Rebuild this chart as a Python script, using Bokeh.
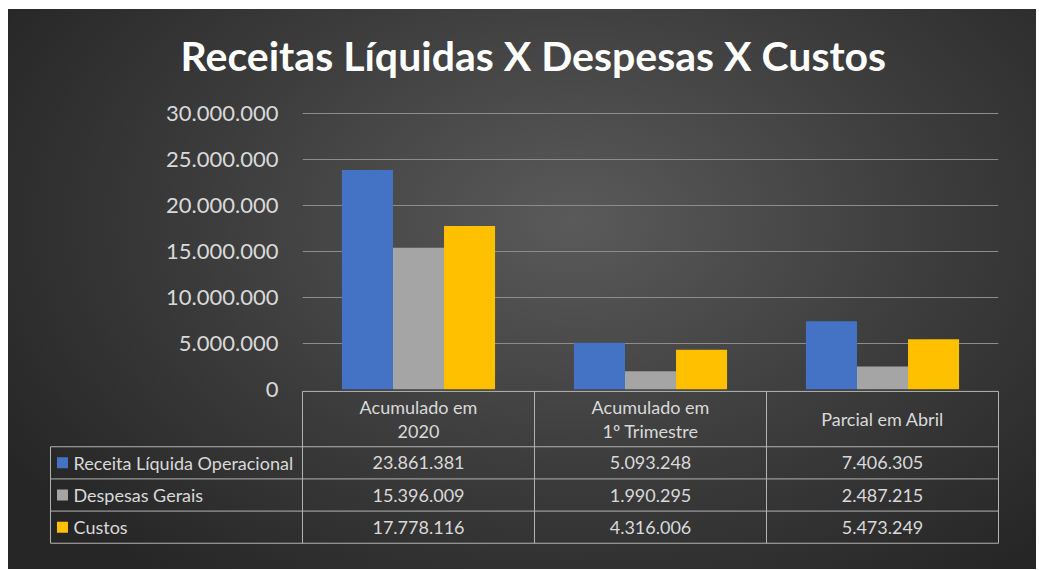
from bokeh.plotting import figure
from bokeh.models import Range1d, FactorRange, Title, FixedTicker, CustomJSTickFormatter, ColumnDataSource
from bokeh.layouts import column
from bokeh.transform import dodge
from bokeh.core.properties import value
from bokeh.embed import file_html
from bokeh.resources import INLINE

# ---------------- data ----------------
chart_title = "Receitas Líquidas X Despesas X Custos"
categories = ["Acumulado em 2020", "Acumulado em 1º Trimestre", "Parcial em Abril"]
header_labels = ["Acumulado em\n2020", "Acumulado em\n1º Trimestre", "Parcial em Abril"]
series_names = ["Receita Líquida Operacional", "Despesas Gerais", "Custos"]
receita = [23861381, 5093248, 7406305]
despesas = [15396009, 1990295, 2487215]
custos = [17778116, 4316006, 5473249]
y_ticks = [0, 5000000, 10000000, 15000000, 20000000, 25000000, 30000000]

colors = ["#4472C4", "#A5A5A5", "#FFC000"]
TXT = "#d9d9d9"
FONT = "Lato"

series = [receita, despesas, custos]

# ---------------- chart ----------------
src = ColumnDataSource(dict(cat=categories, receita=receita, despesas=despesas, custos=custos))

OVER = 14    # px of the chart canvas that sit under the table canvas
TOP = 120    # border above the plot frame (holds the title)
SHIFT = 18   # chart canvas pulled up by this many px

p = figure(x_range=FactorRange(*categories), y_range=Range1d(0, 30000000 * 278 / 276),
           width=1028, height=TOP + 278 + OVER, output_backend="svg", toolbar_location=None,
           x_axis_location=None,
           min_border_left=294, min_border_right=38, min_border_top=TOP, min_border_bottom=OVER)
p.frame_align = False
p.styles = {"margin-top": f"-{SHIFT}px"}
p.background_fill_color = None
p.border_fill_color = None
p.outline_line_color = None

p.title = Title(text=chart_title, align="left", offset=-122, standoff=63,
                text_font=FONT, text_font_style="bold", text_font_size="41px",
                text_color="#ffffff")

ax = p.yaxis[0]
ax.ticker = FixedTicker(ticks=y_ticks)
ax.formatter = CustomJSTickFormatter(code="return Math.round(tick).toString().replace(/\\B(?=(\\d{3})+(?!\\d))/g, '.');")
ax.axis_line_color = None
ax.major_tick_line_color = None
ax.minor_tick_line_color = None
ax.major_tick_out = 0
ax.major_tick_in = 0
ax.major_label_standoff = 24
ax.major_label_text_font = FONT
ax.major_label_text_font_size = "22px"
ax.major_label_text_color = TXT

p.xgrid.grid_line_color = None
p.ygrid.grid_line_color = "#8c8c8c"
p.ygrid.grid_line_width = 1

offsets = [-0.22, 0.0, 0.22]
for key, off, col in zip(["receita", "despesas", "custos"], offsets, colors):
    p.vbar(x=dodge("cat", off, range=p.x_range), top=key, width=0.22, source=src,
           fill_color=col, line_color=None)

# ---------------- data table ----------------
n = len(categories)
H = 4.72          # header top (row units)
LEFT = -1.0862    # legend column left edge (category units)

t = figure(x_range=Range1d(-1.0948, 3.0086), y_range=Range1d(-0.07, 4.78),
           width=1028, height=180, output_backend="svg", toolbar_location=None,
           x_axis_location=None, y_axis_location=None,
           min_border_left=40, min_border_right=36, min_border_top=0, min_border_bottom=24)
t.frame_align = False
t.styles = {"margin-top": f"-{OVER}px"}
t.background_fill_color = None
t.border_fill_color = None
t.outline_line_color = None
t.grid.visible = False

x0s, y0s, x1s, y1s = [], [], [], []
x0s.append(0); y0s.append(H); x1s.append(n); y1s.append(H)
for r in range(len(series) + 1):
    x0s.append(LEFT); y0s.append(r); x1s.append(n); y1s.append(r)
for c in range(n + 1):
    x0s.append(c); y0s.append(0); x1s.append(c); y1s.append(H)
x0s.append(LEFT); y0s.append(0); x1s.append(LEFT); y1s.append(len(series))
t.segment(x0=x0s, y0=y0s, x1=x1s, y1=y1s, line_color="#b4b4b4", line_width=1)

t.text(x=[i + 0.5 for i in range(n)], y=[(H + 3) / 2] * n, text=header_labels,
       text_align="center", text_baseline="middle", text_font=value(FONT),
       text_font_size="18px", text_color=TXT, text_line_height=1.1)

vx, vy, vt = [], [], []
for s, vals in enumerate(series):
    for i, v in enumerate(vals):
        vx.append(i + 0.5)
        vy.append(len(series) - s - 0.5)
        vt.append(f"{v:,}".replace(",", "."))
t.text(x=vx, y=vy, text=vt, text_align="center", text_baseline="middle",
       text_font=value(FONT), text_font_size="18px", text_color=TXT)

ly = [len(series) - s - 0.5 for s in range(len(series))]
t.rect(x=[-1.0345] * len(series), y=ly, width=11, height=11, width_units="screen",
       height_units="screen", fill_color=colors, line_color=None)
t.text(x=[-0.987] * len(series), y=ly, text=series_names, text_align="left",
       text_baseline="middle", text_font=value(FONT), text_font_size="18px", text_color=TXT)

layout = column(p, t, spacing=0, styles={
    "margin": "9px 0 0 8px",
    "background": "radial-gradient(ellipse 65% 80% at 55% 38%, #5a5a5a 0%, #3c3c3c 55%, #262626 100%)"
})

open("out.html", "w").write(file_html(layout, INLINE))
